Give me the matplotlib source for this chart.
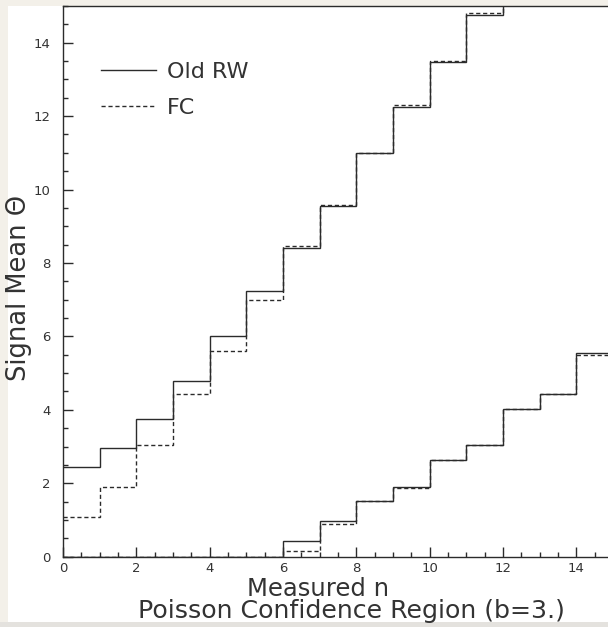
import numpy as np
import matplotlib
matplotlib.use("Agg")
import matplotlib.pyplot as plt
from matplotlib.patches import Rectangle
from matplotlib.ticker import MultipleLocator

# poisson confidence belt, b = 3

n_edges = np.arange(0, 16)

# upper limits, n = 0..12 (n=12 runs off the top)
upper_rw = [2.43, 2.95, 3.75, 4.79, 6.00, 7.25, 8.41, 9.55, 11.00, 12.26, 13.48, 14.75, 16.0]
upper_fc = [1.09, 1.89, 3.05, 4.43, 5.61, 7.00, 8.47, 9.57, 11.00, 12.31, 13.50, 14.82, 16.0]

# lower limits, n = 0..14
lower_rw = [0, 0, 0, 0, 0, 0, 0.44, 0.98, 1.52, 1.89, 2.64, 3.05, 4.03, 4.44, 5.54]
lower_fc = [0, 0, 0, 0, 0, 0, 0.16, 0.90, 1.51, 1.88, 2.63, 3.04, 4.01, 4.42, 5.50]

labels = ["Old RW", "FC"]

INK = "#2b2b2b"
TXT = "#333333"
W, H = 608, 627


def main():
    fig = plt.figure(figsize=(W / 100, H / 100), dpi=100)
    fig.patch.set_facecolor("#f3f0e9")
    fig.patches.append(Rectangle((8 / W, 5 / H), 1 - 8 / W, 1 - 11 / H,
                                 transform=fig.transFigure, facecolor="white",
                                 edgecolor="none", zorder=-2))
    fig.patches.append(Rectangle((0, 0), 1, 5 / H, transform=fig.transFigure,
                                 facecolor="#e4e2de", edgecolor="none", zorder=-2))

    ax = fig.add_axes([63 / W, (H - 556.7) / H, 550 / W, 550.7 / H])
    ax.set_zorder(1)
    ax.set_facecolor("white")

    dash = dict(linestyle=(0, (3, 2)))
    ax.stairs(upper_rw, n_edges[:len(upper_rw) + 1], baseline=None, color=INK, lw=1.0, label=labels[0])
    ax.stairs(upper_fc, n_edges[:len(upper_fc) + 1], baseline=None, color=INK, lw=1.0, label=labels[1], **dash)
    ax.stairs(lower_rw, n_edges[:len(lower_rw) + 1], baseline=None, color=INK, lw=1.0)
    ax.stairs(lower_fc, n_edges[:len(lower_fc) + 1], baseline=None, color=INK, lw=1.0, **dash)

    ax.set_xlim(0, 15)
    ax.set_ylim(0, 15)
    ax.xaxis.set_major_locator(MultipleLocator(2))
    ax.xaxis.set_minor_locator(MultipleLocator(0.5))
    ax.yaxis.set_major_locator(MultipleLocator(2))
    ax.yaxis.set_minor_locator(MultipleLocator(0.5))
    ax.tick_params(which="both", direction="in", color=INK, width=1.0, labelcolor=TXT, labelsize=9.5)
    ax.tick_params(which="major", length=7.5)
    ax.tick_params(which="minor", length=3.8)
    ax.tick_params(axis="y", pad=9)
    ax.tick_params(axis="x", pad=4)
    for s in ax.spines.values():
        s.set_color(INK)
        s.set_linewidth(1.0)

    ax.legend(loc="upper left", bbox_to_anchor=(0.033, 0.935), frameon=False,
              fontsize=16, handlelength=2.47, handletextpad=0.5, labelspacing=0.72,
              labelcolor=TXT)

    fig.text(19 / W, 1 - 288 / H, "Signal Mean Θ", rotation=90, ha="center", va="center",
             fontsize=18.5, color=TXT)
    fig.text(318 / W, 1 - 589 / H, "Measured n", ha="center", va="center", fontsize=17.5, color=TXT)
    fig.text(352 / W, 1 - 611 / H, "Poisson Confidence Region (b=3.)", ha="center", va="center",
             fontsize=18.2, color=TXT)

    fig.savefig("out.png", dpi=100, facecolor=fig.get_facecolor())


if __name__ == "__main__":
    main()
